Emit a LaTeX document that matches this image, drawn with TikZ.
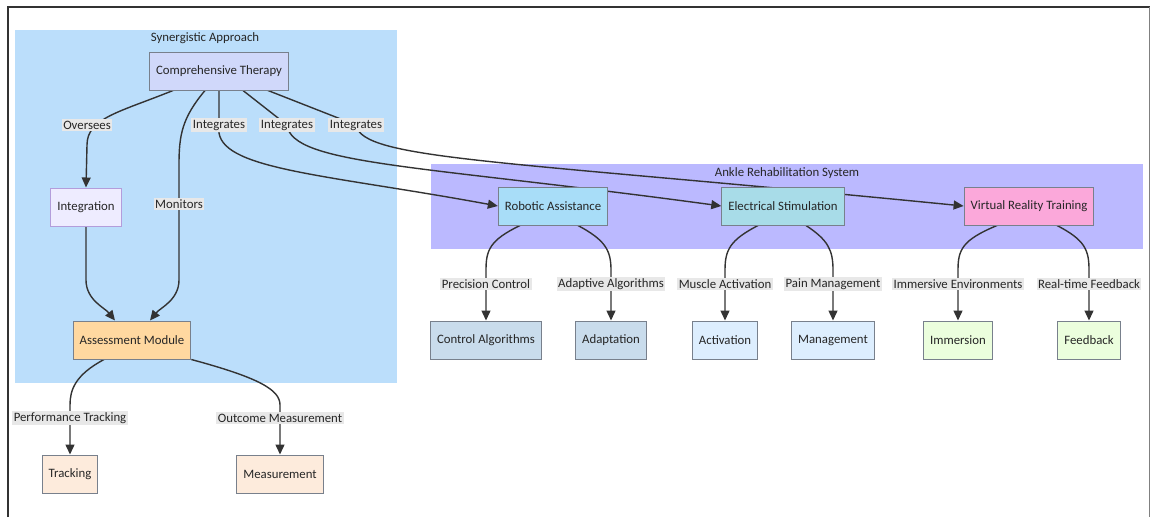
\documentclass[tikz,border=0pt]{standalone}
\usepackage{fontspec}
\setmainfont{Carlito}
\usetikzlibrary{arrows.meta}
\pgfdeclarelayer{bg}
\pgfdeclarelayer{edges}
\pgfsetlayers{bg,edges,main}

\definecolor{synblue}{RGB}{187,222,251}
\definecolor{ankleviolet}{RGB}{187,185,255}
\definecolor{ctfill}{RGB}{208,216,250}
\definecolor{intfill}{RGB}{238,236,255}
\definecolor{intline}{RGB}{179,157,219}
\definecolor{amfill}{RGB}{255,216,160}
\definecolor{outfill}{RGB}{253,235,220}
\definecolor{robfill}{RGB}{168,221,248}
\definecolor{elecfill}{RGB}{168,220,232}
\definecolor{vrfill}{RGB}{251,168,218}
\definecolor{robkid}{RGB}{201,220,236}
\definecolor{eleckid}{RGB}{221,238,254}
\definecolor{vrkid}{RGB}{235,254,221}
\definecolor{lblgray}{RGB}{232,232,232}
\definecolor{edgegray}{RGB}{51,51,51}
\definecolor{boxline}{RGB}{120,128,140}

\begin{document}
\begin{tikzpicture}[
    x=1pt, y=-1pt,
    font=\fontsize{12.8}{15}\selectfont,
    box/.style = {shape=rectangle, draw=boxline, line width=1pt, minimum height=38pt, inner xsep=6.5pt, text=black!85},
    lbl/.style = {fill=lblgray, inner sep=1.5pt, text=black!85},
    title/.style = {text=black!85},
    link/.style = {draw=edgegray, line width=1.4pt},
    edge/.style = {link, -{Triangle[length=10pt, width=9pt]}}
  ]
\useasboundingbox (0,0) rectangle (1150,517);

% frame
\draw[black!80, line width=1.5pt] (8,517) -- (8,7) -- (1150,7);
\draw[gray, line width=1pt] (1149,7) -- (1149,517);

% clusters
\begin{pgfonlayer}{bg}
  \fill[synblue] (15,30) rectangle (397,383);
  \fill[ankleviolet] (431,164) rectangle (1143,249);
\end{pgfonlayer}
\node[title] (synt) at (205,38) {Synergistic Approach};
\node[title] (anklet) at (787,173) {Ankle Rehabilitation System};

% nodes
\node[box, fill=ctfill] (ct) at (219,71) {Comprehensive Therapy};
\node[box, fill=intfill, draw=intline] (int) at (86,207) {Integration};
\node[box, fill=amfill] (am) at (132,340) {Assessment Module};
\node[box, fill=outfill] (track) at (70,474) {Tracking};
\node[box, fill=outfill] (meas) at (280,474) {Measurement};

\node[box, fill=robfill] (rob) at (553,206) {Robotic Assistance};
\node[box, fill=elecfill] (elec) at (783,206) {Electrical Stimulation};
\node[box, fill=vrfill] (vr) at (1029,206) {Virtual Reality Training};

\node[box, fill=robkid] (ctrl) at (486,340) {Control Algorithms};
\node[box, fill=robkid] (adapt) at (611,340) {Adaptation};
\node[box, fill=eleckid] (activ) at (725,340) {Activation};
\node[box, fill=eleckid] (manage) at (833,340) {Management};
\node[box, fill=vrkid] (immers) at (958,340) {Immersion};
\node[box, fill=vrkid] (feedb) at (1089,340) {Feedback};

% connectors
\begin{pgfonlayer}{edges}
  \draw[edge] ([xshift=-46pt]ct.south) .. controls (120,112) and (87,118) .. (87,145) -- (int.north);
  \draw[edge] ([xshift=-14pt]ct.south) .. controls (182,118) and (179,135) .. (179,165) -- (179,280) .. controls (179,300) and (160,308) .. ([xshift=18pt]am.north);
  \draw[edge] (int.south) -- (86,280) .. controls (86,300) and (105,308) .. ([xshift=-17pt]am.north);
  \draw[edge] (ct.south) -- (219,133) .. controls (225,170) and (330,175) .. (rob.west);
  \draw[edge] ([xshift=24pt]ct.south) -- (287,125) .. controls (292,165) and (420,165) .. (elec.west);
  \draw[edge] ([xshift=49pt]ct.south) -- (356,125) .. controls (362,160) and (500,160) .. (vr.west);

  \draw[edge] ([xshift=-28pt]am.south) .. controls (75,375) and (70,390) .. (70,405) -- (track.north);
  \draw[edge] (am.south east) .. controls (260,378) and (280,390) .. (280,405) -- (meas.north);

  \draw[edge] ([xshift=-33pt]rob.south) .. controls (490,240) and (486,250) .. (486,270) -- (ctrl.north);
  \draw[edge] ([xshift=25pt]rob.south) .. controls (605,240) and (611,250) .. (611,270) -- (adapt.north);
  \draw[edge] ([xshift=-25pt]elec.south) .. controls (730,240) and (725,250) .. (725,270) -- (activ.north);
  \draw[edge] ([xshift=23pt]elec.south) .. controls (828,240) and (833,250) .. (833,270) -- (manage.north);
  \draw[edge] ([xshift=-32pt]vr.south) .. controls (962,240) and (958,250) .. (958,270) -- (immers.north);
  \draw[edge] ([xshift=28pt]vr.south) .. controls (1085,240) and (1089,250) .. (1089,270) -- (feedb.north);
\end{pgfonlayer}

% connector labels
\node[lbl] (l-over) at (87,125) {Oversees};
\node[lbl] (l-mon) at (179,204) {Monitors};
\node[lbl] (l-int1) at (219,125) {Integrates};
\node[lbl] (l-int2) at (287,125) {Integrates};
\node[lbl] (l-int3) at (356,125) {Integrates};
\node[lbl] (l-perf) at (70,418) {Performance Tracking};
\node[lbl] (l-outc) at (280,418) {Outcome Measurement};
\node[lbl] (l-prec) at (486,284) {Precision Control};
\node[lbl] (l-adap) at (611,284) {Adaptive Algorithms};
\node[lbl] (l-musc) at (725,284) {Muscle Activation};
\node[lbl] (l-pain) at (833,284) {Pain Management};
\node[lbl] (l-imme) at (958,284) {Immersive Environments};
\node[lbl] (l-real) at (1089,284) {Real-time Feedback};
\end{tikzpicture}
\end{document}
